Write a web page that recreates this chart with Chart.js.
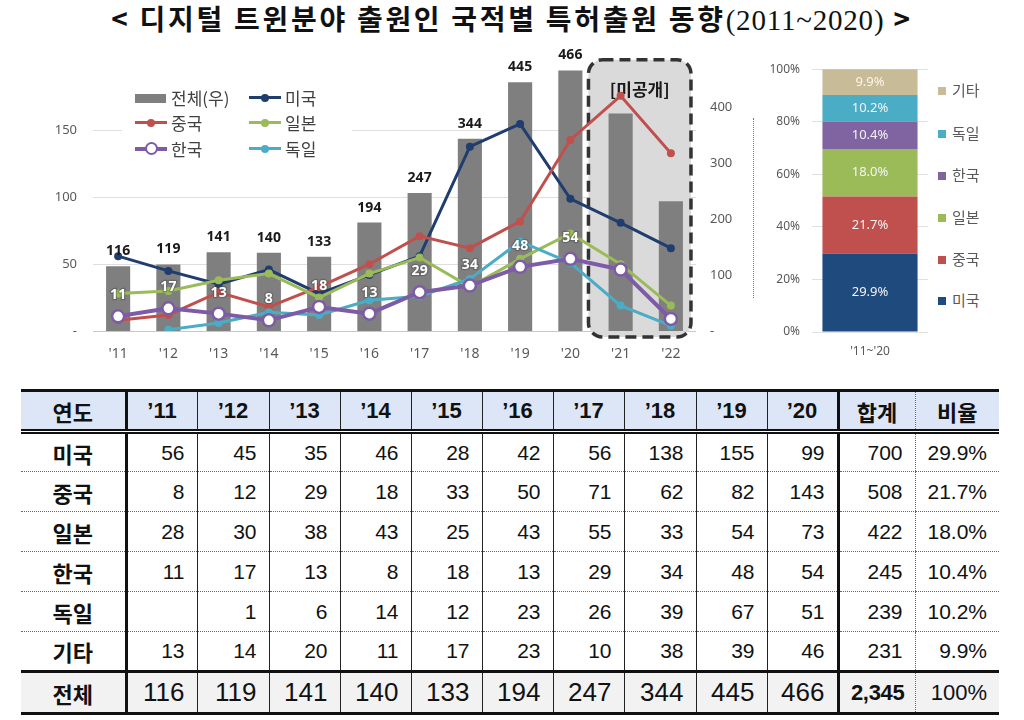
<!DOCTYPE html>
<html><head><meta charset="utf-8">
<script src="https://cdn.jsdelivr.net/npm/chart.js"></script>
<style>
html,body{margin:0;padding:0;background:#fff;width:1024px;height:720px;overflow:hidden;position:relative;font-family:"Noto Sans CJK KR","Noto Sans",sans-serif}
#title{position:absolute;left:0;top:0;width:1024px;text-align:center;font:bold 28px "Noto Sans CJK KR";color:#111;line-height:36px;letter-spacing:2.7px;white-space:nowrap}
#title .ser{font-family:"Liberation Serif";font-weight:normal;font-size:29px;letter-spacing:0.8px}
#c1wrap{position:absolute;left:0;top:40px;width:760px;height:330px}
#c2wrap{position:absolute;left:760px;top:50px;width:175px;height:310px}
#leg1{position:absolute;left:122px;top:84px;width:230px;height:76px;background:#fff}
.li{position:absolute;height:24px;font-size:17px;color:#404040;line-height:24px;white-space:nowrap}
.ic{position:absolute;left:0;top:10px;width:32px;height:3px}
.dot{position:absolute;width:8px;height:8px;border-radius:50%;left:12px;top:-2.5px}
.ring{position:absolute;width:9px;height:9px;border-radius:50%;left:9.5px;top:-5.5px;background:#fff;border:2.5px solid}
.tx{position:absolute;left:36px;top:0}
#sep{position:absolute;left:753px;top:118px;height:180px;border-left:1px dotted #777}
#leg2 .l2{position:absolute;left:938px;font-size:15px;color:#595959;line-height:20px;white-space:nowrap}
#leg2 .sq{display:inline-block;width:8px;height:8px;margin-right:6px;vertical-align:1px}
#tbl{position:absolute;left:21px;top:389px;width:978px;border-collapse:collapse;table-layout:fixed}
#tbl td,#tbl th{padding:0 12px 0 0;text-align:right;font:21px "Liberation Sans";color:#111;border-left:1px solid #222;white-space:nowrap;overflow:hidden}
#tbl tr{height:40px}
#tbl thead tr{height:41px;background:#dde6f6}
#tbl thead th{text-align:center;padding:0;font:bold 22px "Liberation Sans";border-top:3px solid #111;border-bottom:5px double #111}
#tbl thead th.k{font:bold 22px "Noto Sans CJK KR"}
#tbl tbody td{border-bottom:1px dotted #666}
#tbl td.lab,#tbl th.lab{text-align:center;padding:0;font:bold 22px "Noto Sans CJK KR";border-left:none;border-right:3px solid #111}
#tbl .thick{border-left:3px solid #111}
#tbl .dotl{border-left:1px dotted #666}
#tbl tfoot tr{height:42px;background:#f2f2f2}
#tbl tfoot td{border-top:3px solid #111;border-bottom:3px solid #111;font-size:26px}
#tbl tfoot td.sumb{font:bold 22px "Liberation Sans";padding-right:10px;letter-spacing:-0.3px}
#tbl tfoot td.pct{font-size:22px}
</style></head>
<body>
<div id="title">&lt; 디지털 트윈분야 출원인 국적별 특허출원 동향<span class="ser">(2011~2020)</span> &gt;</div>
<div id="c1wrap"><canvas id="c1"></canvas></div>
<div id="leg1"></div>
<div id="sep"></div>
<div id="c2wrap"><canvas id="c2"></canvas></div>
<div id="leg2"></div>
<table id="tbl"></table>
<script>
// ---------- data ----------
const years = ["'11","'12","'13","'14","'15","'16","'17","'18","'19","'20","'21","'22"];
const totalBars = [116,119,141,140,133,194,247,344,445,466,389,232];
const usa     = [56,45,35,46,28,42,56,138,155,99,81,62];
const china   = [8,12,29,18,33,50,71,62,82,143,176,133];
const japan   = [28,30,38,43,25,43,55,33,54,73,50,19];
const korea   = [11,17,13,8,18,13,29,34,48,54,46,9];
const germany = [null,1,6,14,12,23,26,39,67,51,19,4];
const others  = [13,14,20,11,17,23,10,38,39,46];
const countries = ['미국','중국','일본','한국','독일','기타'];
const countrySums = [700,508,422,245,239,231];
const grandTotal = 2345;
const shares = [29.9,21.7,18.0,10.4,10.2,9.9];
const periodLabel = ["'11~'20"];
const totalLabel = '전체';
const barLegend = '전체(우)';
const hiddenLabel = '[미공개]';
const yearHeader = '연도', sumHeader = '합계', ratioHeader = '비율';
const leftTicks = [0,50,100,150];
const rightTicks = [0,100,200,300,400];

const colors = {us:'#1f3d6e', cn:'#c0504d', jp:'#9bbb59', kr:'#7d5ba6', de:'#4bacc6', ot:'#c4b896', bar:'#7f7f7f'};
const shareColors = ['#1f4a7e','#c0504d','#9bbb59','#8064a2','#4bacc6','#c8bc98'];
const NF = '"Noto Sans", "Noto Sans CJK KR", sans-serif';

// ---------- main chart ----------
const overlay = {
  id:'overlay',
  beforeDatasetsDraw(chart){
    const {ctx, scales:{x,y}} = chart;
    const cw = x.getPixelForValue(1)-x.getPixelForValue(0);
    const l = x.getPixelForValue(9)+cw*0.36, r = x.getPixelForValue(11)+cw*0.4;
    const t = chart.chartArea.top-4, b = y.getPixelForValue(0)+6;
    ctx.save();
    ctx.beginPath(); ctx.roundRect(l,t,r-l,b-t,14);
    ctx.fillStyle='#dadada'; ctx.fill();
    ctx.setLineDash([11,6]); ctx.lineWidth=3.5; ctx.strokeStyle='#333'; ctx.stroke();
    ctx.setLineDash([]);
    ctx.font='bold 17px "Noto Sans CJK KR"'; ctx.fillStyle='#1a1a1a';
    ctx.textAlign='center'; ctx.textBaseline='middle';
    ctx.fillText(hiddenLabel,(l+r)/2,t+30);
    ctx.restore();
  },
  afterDatasetsDraw(chart){
    const {ctx} = chart;
    ctx.save();
    ctx.textAlign='center'; ctx.textBaseline='middle';
    const barMeta = chart.getDatasetMeta(0);
    ctx.font='bold 14px '+NF; ctx.fillStyle='#1a1a1a';
    for(let i=0;i<10;i++){
      const el = barMeta.data[i];
      ctx.fillText(String(totalBars[i]), el.x, el.y-15);
    }
    const kMeta = chart.getDatasetMeta(1);
    ctx.font='bold 14px '+NF;
    for(let i=0;i<10;i++){
      const el = kMeta.data[i];
      ctx.lineWidth=2.5; ctx.strokeStyle='rgba(60,60,60,0.35)';
      ctx.strokeText(String(korea[i]), el.x, el.y-21);
      ctx.fillStyle='#fff';
      ctx.fillText(String(korea[i]), el.x, el.y-21);
    }
    ctx.restore();
  }
};

function lineDs(label,data,color,order,extra){
  return Object.assign({type:'line',label,data,borderColor:color,backgroundColor:color,borderWidth:3,
    pointRadius:4,pointHoverRadius:4,pointBorderWidth:0,yAxisID:'y',order,tension:0},extra||{});
}

new Chart(document.getElementById('c1'),{
  data:{labels:years,datasets:[
    {type:'bar',label:barLegend,data:totalBars,backgroundColor:colors.bar,yAxisID:'y1',order:10,
      barPercentage:0.48,categoryPercentage:1},
    lineDs('한국',korea,colors.kr,1,{pointRadius:6,pointBorderWidth:2.5,pointBackgroundColor:'#fff',pointBorderColor:colors.kr,borderWidth:4}),
    lineDs('독일',germany,colors.de,2),
    lineDs('일본',japan,colors.jp,3),
    lineDs('중국',china,colors.cn,4),
    lineDs('미국',usa,colors.us,5)
  ]},
  options:{
    responsive:true,maintainAspectRatio:false,animation:false,
    layout:{padding:{top:21,left:0,right:0,bottom:0}},
    plugins:{legend:{display:false},tooltip:{enabled:false}},
    scales:{
      x:{grid:{display:false},border:{display:false},
        ticks:{color:'#595959',font:{family:NF,size:14},padding:7},
        afterFit(s){s.height=39;}},
      y:{position:'left',min:0,max:200,
        ticks:{stepSize:50,color:'#595959',font:{family:NF,size:13},padding:16,
          callback:v=>leftTicks.includes(v)?(v===0?'-':String(v)):''},
        grid:{drawTicks:false,color:c=>c.tick.value===0?'#c8c8c8':(leftTicks.includes(c.tick.value)?'#dedede':'rgba(0,0,0,0)')},
        border:{display:false},
        afterFit(s){s.width=93;}},
      y1:{position:'right',min:0,max:478,
        ticks:{stepSize:100,color:'#595959',font:{family:NF,size:13},padding:14,
          callback:v=>rightTicks.includes(v)?(v===0?'-':String(v)):''},
        grid:{display:false,drawTicks:false},border:{display:false},
        afterFit(s){s.width=64;}}
    }
  },
  plugins:[overlay]
});

// legend 1
const leg1 = document.getElementById('leg1');
const legItems = [
  {t:barLegend,kind:'bar',c:colors.bar,x:13,y:2},
  {t:'미국',kind:'dot',c:colors.us,x:127,y:2},
  {t:'중국',kind:'dot',c:colors.cn,x:13,y:27},
  {t:'일본',kind:'dot',c:colors.jp,x:127,y:27},
  {t:'한국',kind:'ring',c:colors.kr,x:13,y:53},
  {t:'독일',kind:'dot',c:colors.de,x:127,y:53}
];
legItems.forEach(it=>{
  const d=document.createElement('div'); d.className='li';
  d.style.left=it.x+'px'; d.style.top=it.y+'px';
  let ic;
  if(it.kind==='bar') ic=`<div class="ic" style="background:${it.c};height:9px;top:7.5px;width:31px"></div>`;
  else if(it.kind==='dot') ic=`<div class="ic" style="background:${it.c}"><div class="dot" style="background:${it.c}"></div></div>`;
  else ic=`<div class="ic" style="background:${it.c};height:4px"><div class="ring" style="border-color:${it.c}"></div></div>`;
  d.innerHTML=ic+`<span class="tx">${it.t}</span>`;
  leg1.appendChild(d);
});

// ---------- share chart ----------
const shareLabels = {
  id:'shareLabels',
  afterDatasetsDraw(chart){
    const {ctx}=chart; ctx.save();
    ctx.font='13px '+NF; ctx.textAlign='center'; ctx.textBaseline='middle';
    chart.data.datasets.forEach((ds,i)=>{
      const el=chart.getDatasetMeta(i).data[0];
      const top=Math.max(el.y,chart.chartArea.top);
      ctx.fillStyle = i===5?'#fbf6e6':'#f4f4f4';
      ctx.fillText(ds.data[0].toFixed(1)+'%', el.x, (top+el.base)/2);
    });
    ctx.restore();
  }
};
new Chart(document.getElementById('c2'),{
  type:'bar',
  data:{labels:periodLabel,datasets:countries.map((c,i)=>({label:c,data:[shares[i]],backgroundColor:shareColors[i],
    barPercentage:0.82,categoryPercentage:1}))},
  options:{
    responsive:true,maintainAspectRatio:false,animation:false,
    layout:{padding:{top:17,right:7,left:0,bottom:0}},
    plugins:{legend:{display:false},tooltip:{enabled:false}},
    scales:{
      x:{stacked:true,grid:{display:false},border:{display:false},
        ticks:{color:'#595959',font:{family:NF,size:12},padding:4},afterFit(s){s.height=28;}},
      y:{stacked:true,min:0,max:100,
        ticks:{stepSize:20,color:'#595959',font:{family:NF,size:12},padding:12,callback:v=>v+'%'},
        grid:{drawTicks:false,color:'#e0e0e0'},border:{display:false},afterFit(s){s.width=52;}}
    }
  },
  plugins:[shareLabels]
});

// legend 2
const leg2=document.getElementById('leg2');
const l2y=[300,259,217,175,133,90];
countries.forEach((c,i)=>{
  const d=document.createElement('div'); d.className='l2';
  d.style.top=(l2y[i]-10)+'px';
  d.innerHTML=`<span class="sq" style="background:${shareColors[i]}"></span>${c}`;
  leg2.appendChild(d);
});

// ---------- table ----------
const colW=[105,71,72,71,71,71,71,71,72,71,71,77,84];
const tableYears = years.slice(0,10).map(s=>s.replace("'","\u2019"));
const rows=[usa,china,japan,korea,germany,others];
let h='<colgroup>'+colW.map(w=>`<col style="width:${w}px">`).join('')+'</colgroup>';
h+='<thead><tr><th class="lab">'+yearHeader+'</th>'+tableYears.map(y=>`<th>${y}</th>`).join('')+
   `<th class="k thick">${sumHeader}</th><th class="k dotl">${ratioHeader}</th></tr></thead><tbody>`;
rows.forEach((r,i)=>{
  h+=`<tr><td class="lab">${countries[i]}</td>`+r.slice(0,10).map(v=>`<td>${v==null?'':v}</td>`).join('')+
     `<td class="thick">${countrySums[i]}</td><td class="dotl">${shares[i].toFixed(1)}%</td></tr>`;
});
h+=`</tbody><tfoot><tr><td class="lab">${totalLabel}</td>`+totalBars.slice(0,10).map(v=>`<td>${v}</td>`).join('')+
   `<td class="thick sumb">${grandTotal.toLocaleString('en-US')}</td><td class="dotl pct">100%</td></tr></tfoot>`;
document.getElementById('tbl').innerHTML=h;
</script>
</body></html>
